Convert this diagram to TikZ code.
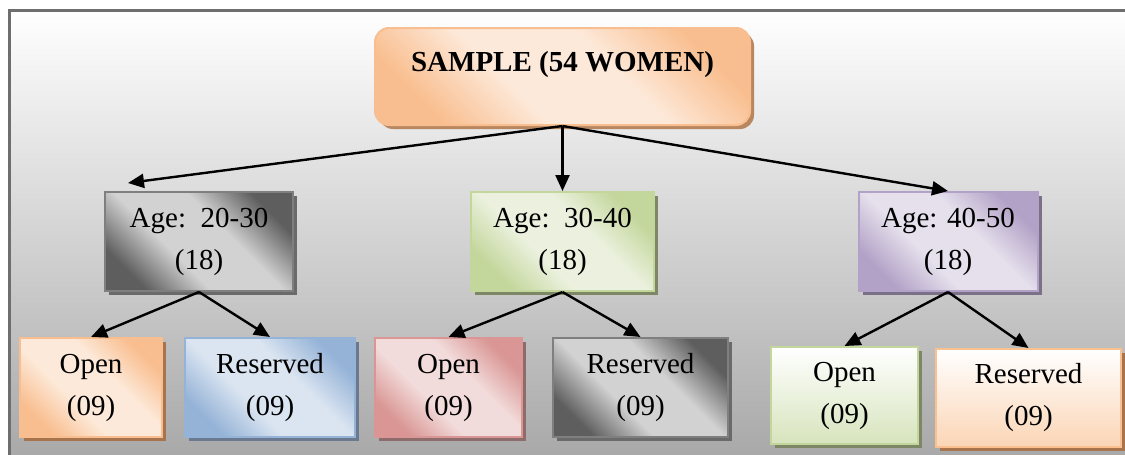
\documentclass[tikz,border=0pt]{standalone}
\usepackage{fontspec}
\setmainfont{Liberation Serif}
\usetikzlibrary{arrows.meta,shadows}
\definecolor{framecol}{HTML}{6E6E6E}
\definecolor{bgbot}{HTML}{A6A6A6}
\definecolor{orD}{HTML}{F9BE8F}
\definecolor{orL}{HTML}{FDE9D9}
\definecolor{orS}{HTML}{B8875F}
\definecolor{gyB}{HTML}{7F7F7F}
\definecolor{gyD}{HTML}{5E5E5E}
\definecolor{gyL}{HTML}{D2D2D2}
\definecolor{gyS}{HTML}{6A6A6A}
\definecolor{grB}{HTML}{C3D69B}
\definecolor{grL}{HTML}{EBF1DE}
\definecolor{grS}{HTML}{7D8766}
\definecolor{puB}{HTML}{B3A2C7}
\definecolor{puL}{HTML}{E5E0EC}
\definecolor{puS}{HTML}{7A7088}
\definecolor{blB}{HTML}{95B3D7}
\definecolor{blL}{HTML}{DBE5F1}
\definecolor{blS}{HTML}{6A7890}
\definecolor{rdB}{HTML}{D99694}
\definecolor{rdL}{HTML}{F2DCDB}
\definecolor{rdS}{HTML}{8E6C6B}
\definecolor{brS}{HTML}{A8744E}
\definecolor{gr2}{HTML}{D7E4BD}
\definecolor{or2}{HTML}{FBD5B5}
\definecolor{orB}{HTML}{FAC090}
\newcommand\mydiagshade[3]{\pgfdeclareverticalshading{#1}{100bp}{color(0bp)=(#2); color(25bp)=(#2); color(41bp)=(#3); color(59bp)=(#3); color(75bp)=(#2); color(100bp)=(#2)}}
\mydiagshade{shOr}{orD}{orL}
\mydiagshade{shGy}{gyD}{gyL}
\mydiagshade{shGr}{grB}{grL}
\mydiagshade{shPu}{puB}{puL}
\mydiagshade{shBl}{blB}{blL}
\mydiagshade{shRd}{rdB}{rdL}
\begin{document}
\begin{tikzpicture}[x=1pt,y=-1pt,
  txt/.style={align=center,font=\fontsize{29}{42}\selectfont,inner sep=0pt},
  diag/.style n args={3}{txt,draw=#1,line width=2pt,shading=#2,shade,shading angle=-45,
     drop shadow={shadow xshift=4pt,shadow yshift=-4pt,fill=#3,opacity=1}},
  vert/.style n args={4}{txt,draw=#1,line width=2pt,top color=#2,bottom color=#3,
     drop shadow={shadow xshift=4pt,shadow yshift=-4pt,fill=#4,opacity=1}},
  arr/.style={line width=2.4pt,-{Triangle[length=16pt,width=14pt]}}]
\useasboundingbox (0,0) rectangle (1125,455);
\fill[white] (0,0) rectangle (1125,455);
\clip (0,0) rectangle (1125,455);
\draw[line width=3pt,draw=framecol,top color=white,bottom color=bgbot] (9.5,10) rectangle (1140,470);
% top
\node[diag={orD}{shOr}{orS},rounded corners=14pt,minimum width=375pt,minimum height=97pt,font=\fontsize{29}{42}\selectfont\bfseries]
  (sample) at (562.5,76.5) {SAMPLE (54 WOMEN)\\[-12pt]\mbox{}};
% ages
\node[diag={gyB}{shGy}{gyS},minimum width=188pt,minimum height=99pt] (a1) at (199,241.5) {Age:\ \ 20-30\\(18)};
\node[diag={grB}{shGr}{grS},minimum width=183pt,minimum height=99pt] (a2) at (562.5,241.5) {Age:\ \ 30-40\\(18)};
\node[diag={puB}{shPu}{puS},minimum width=179pt,minimum height=99pt] (a3) at (948,241.5) {Age: 40-50\\(18)};
% leaves
\node[diag={orD}{shOr}{brS},minimum width=142pt,minimum height=99pt] (b1) at (91,387.5) {Open\\(09)};
\node[diag={blB}{shBl}{blS},minimum width=170pt,minimum height=99pt] (b2) at (270,387.5) {Reserved\\(09)};
\node[diag={rdB}{shRd}{rdS},minimum width=147pt,minimum height=99pt] (b3) at (448.5,387.5) {Open\\(09)};
\node[diag={gyB}{shGy}{gyS},minimum width=175pt,minimum height=99pt] (b4) at (640.5,387.5) {Reserved\\(09)};
\node[vert={grB}{white}{gr2}{grS},minimum width=147pt,minimum height=97pt] (b5) at (844.5,395.5) {Open\\(09)};
\node[vert={orB}{white}{or2}{brS},minimum width=185pt,minimum height=98pt] (b6) at (1028.5,398) {Reserved\\(09)};
% connectors
\coordinate (t1) at (128,183);
\draw[arr] (sample.south) -- (t1);
\draw[arr] (sample.south) -- (a2.north);
\draw[arr] (sample.south) -- (a3.north);
\draw[arr] (a1.south) -- (b1.north);
\draw[arr] (a1.south) -- (b2.north);
\draw[arr] (a2.south) -- (b3.north);
\draw[arr] (a2.south) -- (b4.north);
\draw[arr] (a3.south) -- (b5.north);
\draw[arr] (a3.south) -- (b6.north);
\end{tikzpicture}
\end{document}
